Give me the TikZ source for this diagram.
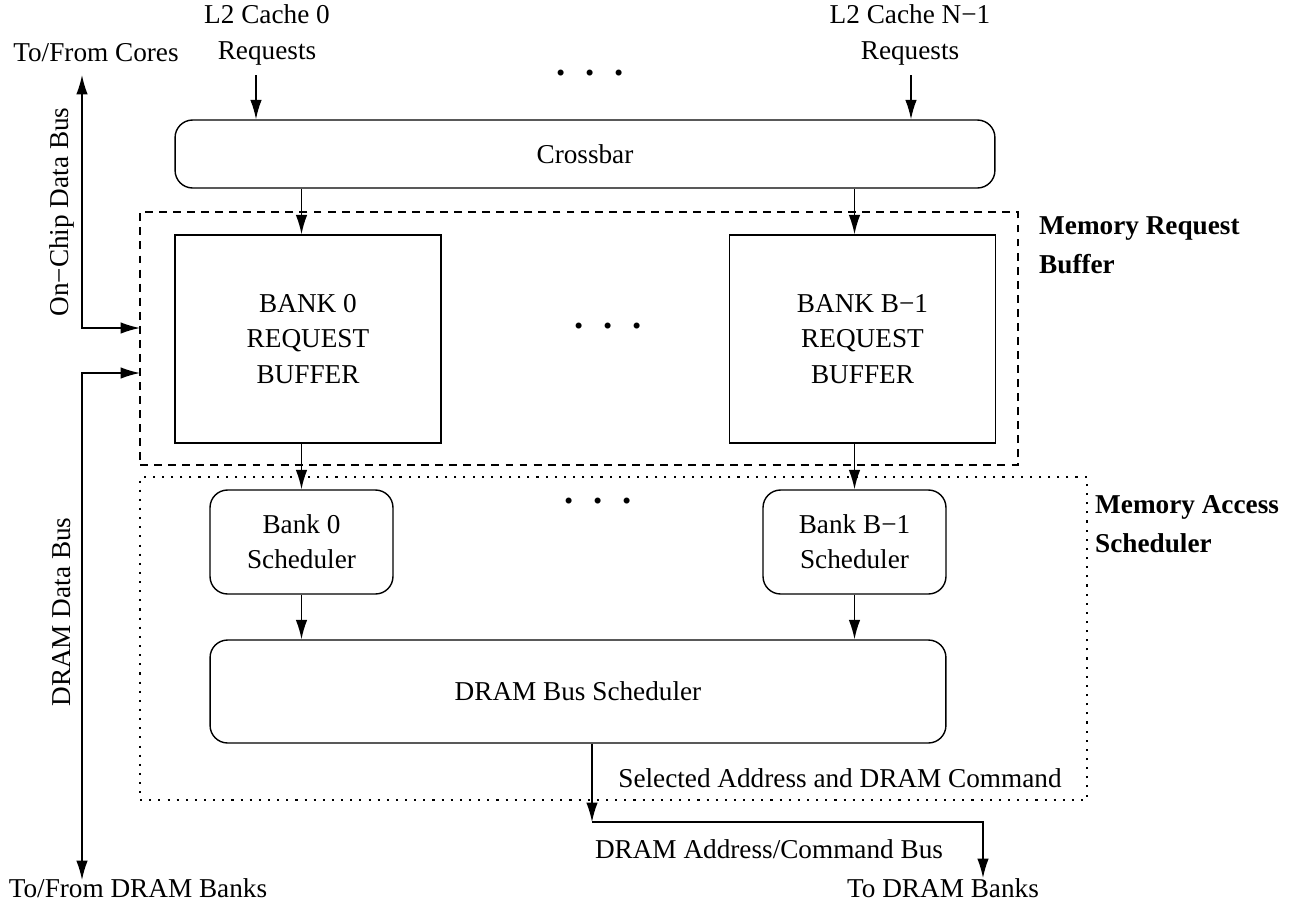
\documentclass[tikz,border=0pt]{standalone}
\usepackage{fontspec}
\setmainfont{Liberation Serif}
\usetikzlibrary{arrows.meta, positioning}

\begin{document}
\begin{tikzpicture}[
  x=0.02cm, y=-0.02cm,
  font=\fontsize{15.5}{20}\selectfont,
  every node/.style={align=center},
  box/.style={rectangle, draw, line width=0.8pt, text centered, inner sep=0pt},
  rbox/.style={box, rounded corners=10pt},
  arrow/.style={-{Latex[length=11pt, width=6.5pt]}, line width=0.8pt},
  dblarrow/.style={{Latex[length=11pt, width=6.5pt]}-{Latex[length=11pt, width=6.5pt]}, line width=0.8pt},
  groupdash/.style={draw, line width=0.8pt, dash pattern=on 4.5pt off 3.5pt, inner sep=0pt},
  groupdot/.style={draw, line width=0.8pt, dash pattern=on 1.2pt off 4pt, inner sep=0pt},
  dots/.style={font=\fontsize{21}{22}\selectfont\bfseries},
  grouplabel/.style={font=\fontsize{15.5}{22}\selectfont\bfseries, align=left, anchor=west}
]
\useasboundingbox (0,0) rectangle (1289,910);

% boxes
\node[rbox, minimum width=16.4cm, minimum height=1.36cm] (crossbar) at (585,154) {Crossbar};
\node[box, minimum width=5.32cm, minimum height=4.16cm] (buf0) at (308,339) {BANK 0\\REQUEST\\BUFFER};
\node[box, minimum width=5.32cm, minimum height=4.16cm] (buf1) at (862.5,339) {BANK B−1\\REQUEST\\BUFFER};
\node[rbox, minimum width=3.66cm, minimum height=2.08cm] (sched0) at (301.5,542) {Bank 0\\Scheduler};
\node[rbox, minimum width=3.66cm, minimum height=2.08cm] (sched1) at (854.5,542) {Bank B−1\\Scheduler};
\node[rbox, minimum width=14.72cm, minimum height=2.06cm] (busched) at (578,691.5) {DRAM Bus Scheduler};

% groups
\node[groupdash, minimum width=17.56cm, minimum height=5.06cm] (mrb) at (579,338.5) {};
\node[groupdot, minimum width=18.94cm, minimum height=6.46cm] (mas) at (613.5,638.5) {};
\node[grouplabel] (mrblabel) at (1033,245.5) {Memory Request\\Buffer};
\node[grouplabel] (maslabel) at (1089,524) {Memory Access\\Scheduler};

% labels
\node (l2firstlabel) at (267,35) {L2 Cache 0\\Requests};
\node (l2lastlabel) at (910,35) {L2 Cache N−1\\Requests};
\node (coreslabel) at (96,53) {To/From Cores};
\node (dramlabel) at (138,888) {To/From DRAM Banks};
\node (banklabel) at (943,888) {To DRAM Banks};
\node (cmdbuslabel) at (769,849) {DRAM Address/Command Bus};
\node (selectlabel) at (840,778) {Selected Address and DRAM Command};
\node[rotate=90] (onchiplabel) at (62,212) {On−Chip Data Bus};
\node[rotate=90] (drambuslabel) at (62,612) {DRAM Data Bus};
\node[dots] (dotstop) at (590,73) {.\hspace{0.4cm}.\hspace{0.4cm}.};
\node[dots] (dotsbuf) at (608,326) {.\hspace{0.4cm}.\hspace{0.4cm}.};
\node[dots] (dotssched) at (598,501) {.\hspace{0.4cm}.\hspace{0.4cm}.};

% free ends
\coordinate (l2first) at (256,75);
\coordinate (l2last) at (911,75);
\coordinate (coretop) at (82,75);
\coordinate (dramend) at (82,880);
\coordinate (onchipin) at (140,328);
\coordinate (dramin) at (140,373);
\coordinate (cmdbend) at (592,822);
\coordinate (dramcmd) at (983,878);

% connectors
\draw[arrow] (l2first) -- (l2first |- crossbar.north);
\draw[arrow] (l2last) -- (l2last |- crossbar.north);
\draw[arrow] (crossbar.south -| sched0) -- (buf0.north -| sched0);
\draw[arrow] (crossbar.south -| sched1) -- (buf1.north -| sched1);
\draw[arrow] (buf0.south -| sched0) -- (sched0.north);
\draw[arrow] (buf1.south -| sched1) -- (sched1.north);
\draw[arrow] (sched0.south) -- (busched.north -| sched0);
\draw[arrow] (sched1.south) -- (busched.north -| sched1);
\draw[dblarrow] (coretop) |- (onchipin);
\draw[dblarrow] (dramend) |- (dramin);
\draw[arrow] (busched.south -| cmdbend) -- (cmdbend);
\draw[arrow] (cmdbend) -| (dramcmd);
\end{tikzpicture}
\end{document}
